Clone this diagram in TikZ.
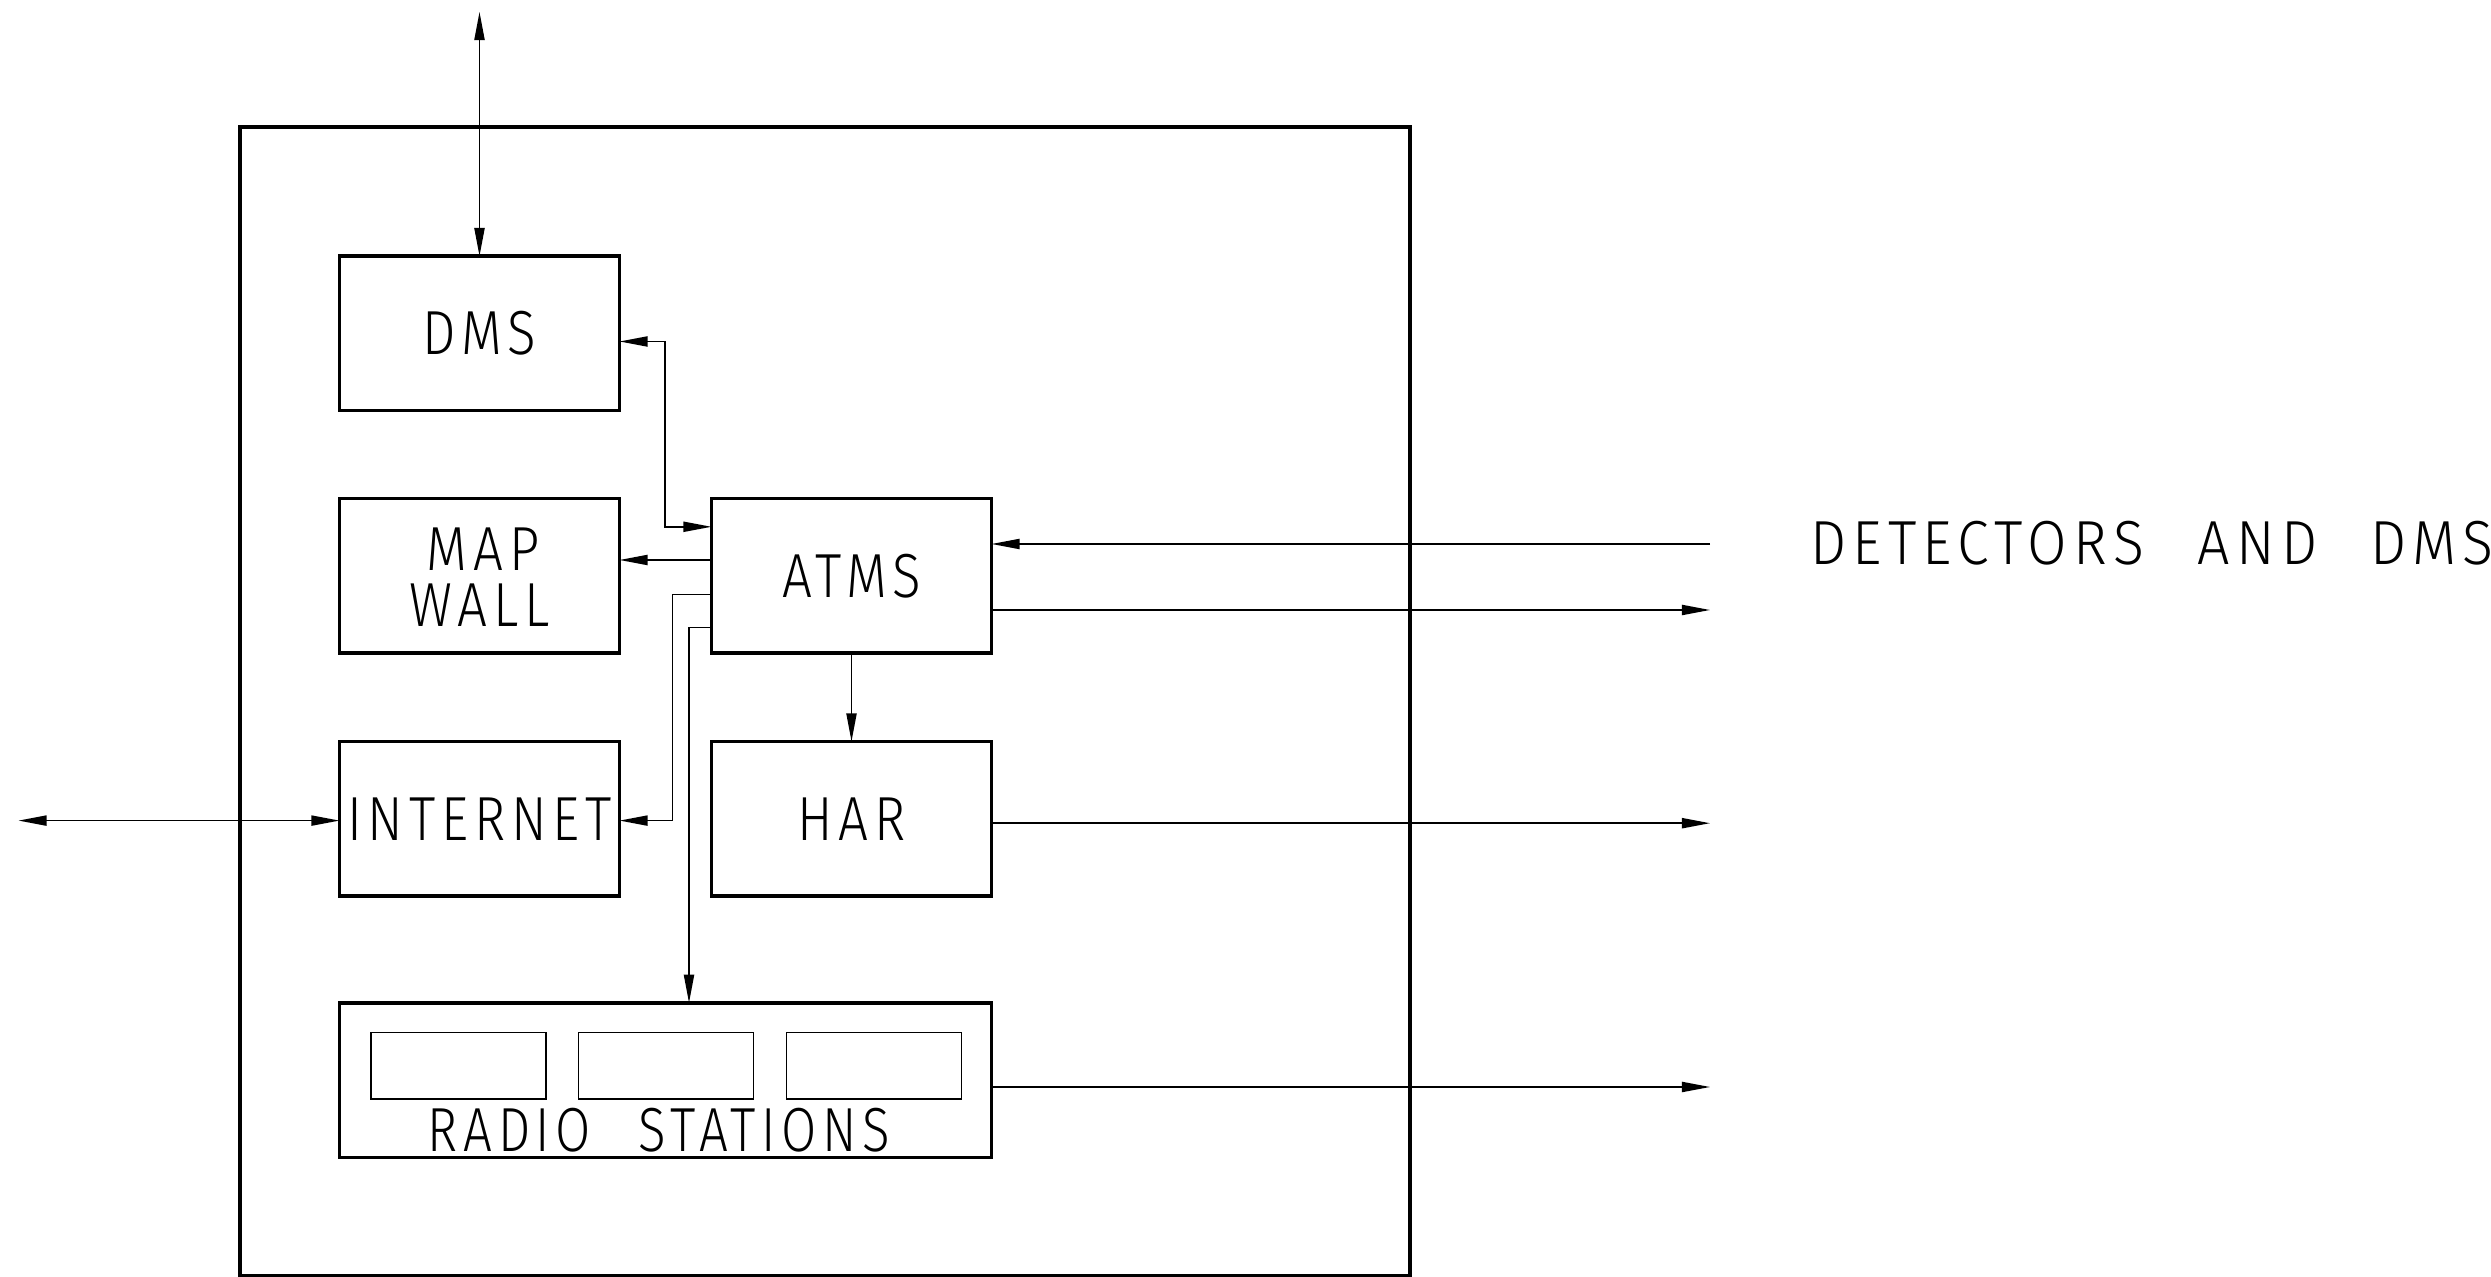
\documentclass[tikz,border=0pt]{standalone}
\usepackage{fontspec}
\usepackage{graphicx}
\usetikzlibrary{arrows.meta}
\newfontfamily\cad[LetterSpace=11,WordSpace=2.4]{Fira Sans Light}
\newcommand\cadfont{\cad\fontsize{17.7}{15}\selectfont}
\newcommand\cadtxt[2][0.85]{\scalebox{#1}[1]{\cadfont #2}}
\tikzset{
  box/.style={draw, line width=1pt, minimum width=2.8cm, minimum height=1.545cm, inner sep=0pt, outer sep=0pt},
  subbox/.style={draw, line width=0.4pt, minimum width=1.75cm, minimum height=0.664cm, inner sep=0pt, outer sep=0pt},
  conn/.style={line width=0.43pt},
  arr/.style={conn, -{Triangle[length=8pt,width=2.9pt]}},
  dbl/.style={conn, {Triangle[length=8pt,width=2.9pt]}-{Triangle[length=8pt,width=2.9pt]}},
  lbl/.style={inner sep=0pt, outer sep=0pt},
}
\begin{document}
\begin{tikzpicture}[x=0.01cm,y=-0.01cm]
\useasboundingbox (0,0) rectangle (2491,1277);
% outer frame
\draw[line width=1pt] (240,127) rectangle (1410,1276);
% boxes
\node[box] (dms)  at (479.5,333.4) {\cadtxt{DMS}};
\node[box] (mapw) at (479.5,575.7) {};
\node[lbl] (maplbl) at (483,549.5) {\cadtxt{MAP}};
\node[lbl] (walllbl) at (479.5,605.5) {\cadtxt{WALL}};
\node[box] (atms) at (851.5,575.7) {\cadtxt{ATMS}};
\node[box] (inet) at (479.5,818.7) {\cadtxt{INTERNET}};
\node[box] (har)  at (851.5,818.7) {\cadtxt{HAR}};
\node[box, minimum width=6.52cm] (radio) at (665.5,1080.1) {};
\node[subbox] (r1) at (458.5,1065.8) {};
\node[subbox] (r2) at (666,1065.8) {};
\node[subbox] (r3) at (874,1065.8) {};
\node[lbl] (radiolbl) at (659,1130) {\cadtxt[0.82]{RADIO STATIONS}};
\node[lbl, anchor=west] (det) at (1810,543) {\cadtxt[0.92]{DETECTORS AND DMS}};
% coordinates
\coordinate (top) at (479.5,12);
\coordinate (left) at (18.5,820.6);
\coordinate (b1) at (665,341.5);
\coordinate (b2) at (665,526.8);
\coordinate (c0) at (700,560);
\coordinate (c1) at (672.5,594.6);
\coordinate (c2) at (672.5,820.6);
\coordinate (c3) at (689,627.7);
\coordinate (detin) at (1710,544);
\coordinate (atmsout) at (1710,610);
\coordinate (harout) at (1710,823.2);
\coordinate (radioout) at (1710,1087);
% connectors
\draw[dbl] (top) -- (dms.north);
\draw[dbl] (left) -- (inet.west |- left);
\draw[dbl] (dms.east |- b1) -- (b1) -- (b2) -- (atms.west |- b2);
\draw[arr] (atms.west |- c0) -- (mapw.east |- c0);
\draw[arr] (atms.west |- c1) -- (c1) -- (c2) -- (inet.east |- c2);
\draw[arr] (atms.west |- c3) -- (c3) -- (radio.north -| c3);
\draw[arr] (atms.south) -- (har.north);
\draw[arr] (detin) -- (atms.east |- detin);
\draw[arr] (atms.east |- atmsout) -- (atmsout);
\draw[arr] (har.east |- harout) -- (harout);
\draw[arr] (radio.east |- radioout) -- (radioout);
\end{tikzpicture}
\end{document}
